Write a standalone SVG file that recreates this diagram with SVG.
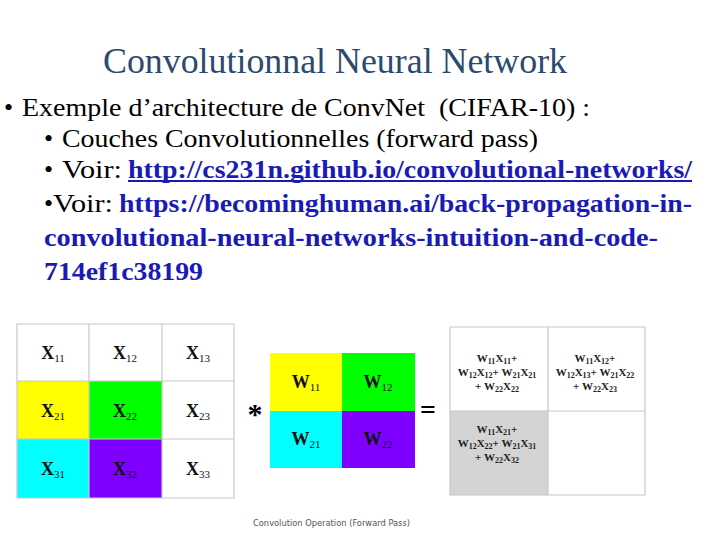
<svg xmlns="http://www.w3.org/2000/svg" width="720" height="540" viewBox="0 0 720 540">
<style>
.t{font-family:"Liberation Serif","Times New Roman",serif}
.title{font-size:35px;fill:#2c4a6e}
.body{font-size:26px;fill:#000}
.link{font-size:25px;fill:#1a1ab4;font-weight:bold}
.xl{font-family:"Liberation Serif",serif;font-weight:bold;font-size:18px;fill:#111;text-anchor:middle}
.xs{font-size:11px;font-weight:normal}
.m{font-family:"Liberation Serif",serif;font-weight:bold;font-size:11px;fill:#222;text-anchor:middle}
.ms{font-size:8px}
.g{stroke:#c8c8c8;stroke-width:1.2;fill:none}
.cap{font-family:"DejaVu Sans","Liberation Sans",sans-serif;font-size:9px;fill:#555}
</style>
<rect width="720" height="540" fill="#fff"/>
<g id="text">
<text class="t title" x="103" y="73" textLength="464" lengthAdjust="spacingAndGlyphs">Convolutionnal Neural Network</text>
<text class="t body" x="4" y="116">•</text>
<text class="t body" x="22" y="116" xml:space="preserve" textLength="568" lengthAdjust="spacingAndGlyphs">Exemple d’architecture de ConvNet  (CIFAR-10) :</text>
<text class="t body" x="44" y="147">•</text>
<text class="t body" x="62" y="147" textLength="476" lengthAdjust="spacingAndGlyphs">Couches Convolutionnelles (forward pass)</text>
<text class="t body" x="44" y="178">•</text>
<text class="t body" x="62" y="178" textLength="60" lengthAdjust="spacingAndGlyphs">Voir:</text>
<text class="t link" x="128" y="178" textLength="564" lengthAdjust="spacingAndGlyphs">http://cs231n.github.io/convolutional-networks/</text>
<rect x="128" y="180" width="564" height="2" fill="#1a1ab4"/>
<text class="t body" x="44" y="212">•</text>
<text class="t body" x="53" y="212" textLength="60" lengthAdjust="spacingAndGlyphs">Voir:</text>
<text class="t link" x="119" y="212" textLength="573" lengthAdjust="spacingAndGlyphs">https://becominghuman.ai/back-propagation-in-</text>
<text class="t link" x="44" y="246" textLength="614" lengthAdjust="spacingAndGlyphs">convolutional-neural-networks-intuition-and-code-</text>
<text class="t link" x="44" y="280" textLength="159" lengthAdjust="spacingAndGlyphs">714ef1c38199</text>
</g>
<g id="input-matrix">
<rect x="17" y="381" width="72" height="58" fill="#ffff00"/>
<rect x="89" y="381" width="73" height="58" fill="#00ff00"/>
<rect x="17" y="439" width="72" height="59" fill="#00ffff"/>
<rect x="89" y="439" width="73" height="59" fill="#8000ff"/>
<path class="g" d="M17 324H234V498H17Z M89 324V498 M162 324V498 M17 381H234 M17 439H234"/>
<text class="xl" x="53" y="359">X<tspan class="xs" dy="3">11</tspan></text>
<text class="xl" x="125" y="359">X<tspan class="xs" dy="3">12</tspan></text>
<text class="xl" x="198" y="359">X<tspan class="xs" dy="3">13</tspan></text>
<text class="xl" x="53" y="417">X<tspan class="xs" dy="3">21</tspan></text>
<text class="xl" x="125" y="417">X<tspan class="xs" dy="3">22</tspan></text>
<text class="xl" x="198" y="417">X<tspan class="xs" dy="3">23</tspan></text>
<text class="xl" x="53" y="475">X<tspan class="xs" dy="3">31</tspan></text>
<text class="xl" x="125" y="475">X<tspan class="xs" dy="3">32</tspan></text>
<text class="xl" x="198" y="475">X<tspan class="xs" dy="3">33</tspan></text>
</g>
<g id="operator-conv">
<text x="255" y="424" font-family="Liberation Serif,serif" font-weight="bold" font-size="30" text-anchor="middle">*</text>
</g>
<g id="kernel">
<rect x="270" y="353" width="72" height="58" fill="#ffff00"/>
<rect x="342" y="353" width="73" height="58" fill="#00ff00"/>
<rect x="270" y="411" width="72" height="57" fill="#00ffff"/>
<rect x="342" y="411" width="73" height="57" fill="#8000ff"/>
<text class="xl" x="306" y="388">W<tspan class="xs" dy="3">11</tspan></text>
<text class="xl" x="378" y="388">W<tspan class="xs" dy="3">12</tspan></text>
<text class="xl" x="306" y="445">W<tspan class="xs" dy="3">21</tspan></text>
<text class="xl" x="378" y="445">W<tspan class="xs" dy="3">22</tspan></text>
</g>
<g id="operator-eq">
<text x="428" y="419" font-family="Liberation Serif,serif" font-weight="bold" font-size="28" text-anchor="middle">=</text>
</g>
<g id="output-matrix">
<rect x="450" y="411" width="98" height="84" fill="#d4d4d4"/>
<path class="g" d="M450 327H645V495H450Z M548 327V495 M450 411H645"/>
<text class="m" x="497" y="362">W<tspan class="ms" dy="2">11</tspan><tspan dy="-2">X</tspan><tspan class="ms" dy="2">11</tspan><tspan dy="-2">+</tspan></text>
<text class="m" x="497" y="376">W<tspan class="ms" dy="2">12</tspan><tspan dy="-2">X</tspan><tspan class="ms" dy="2">12</tspan><tspan dy="-2">+ W</tspan><tspan class="ms" dy="2">21</tspan><tspan dy="-2">X</tspan><tspan class="ms" dy="2">21</tspan></text>
<text class="m" x="497" y="390">+ W<tspan class="ms" dy="2">22</tspan><tspan dy="-2">X</tspan><tspan class="ms" dy="2">22</tspan></text>
<text class="m" x="595" y="362">W<tspan class="ms" dy="2">11</tspan><tspan dy="-2">X</tspan><tspan class="ms" dy="2">12</tspan><tspan dy="-2">+</tspan></text>
<text class="m" x="595" y="376">W<tspan class="ms" dy="2">12</tspan><tspan dy="-2">X</tspan><tspan class="ms" dy="2">13</tspan><tspan dy="-2">+ W</tspan><tspan class="ms" dy="2">21</tspan><tspan dy="-2">X</tspan><tspan class="ms" dy="2">22</tspan></text>
<text class="m" x="595" y="390">+ W<tspan class="ms" dy="2">22</tspan><tspan dy="-2">X</tspan><tspan class="ms" dy="2">23</tspan></text>
<text class="m" x="497" y="433">W<tspan class="ms" dy="2">11</tspan><tspan dy="-2">X</tspan><tspan class="ms" dy="2">21</tspan><tspan dy="-2">+</tspan></text>
<text class="m" x="497" y="447">W<tspan class="ms" dy="2">12</tspan><tspan dy="-2">X</tspan><tspan class="ms" dy="2">22</tspan><tspan dy="-2">+ W</tspan><tspan class="ms" dy="2">21</tspan><tspan dy="-2">X</tspan><tspan class="ms" dy="2">31</tspan></text>
<text class="m" x="497" y="461">+ W<tspan class="ms" dy="2">22</tspan><tspan dy="-2">X</tspan><tspan class="ms" dy="2">32</tspan></text>
</g>
<g id="caption">
<text class="cap" x="253" y="526" textLength="157" lengthAdjust="spacingAndGlyphs">Convolution Operation (Forward Pass)</text>
</g>
</svg>
